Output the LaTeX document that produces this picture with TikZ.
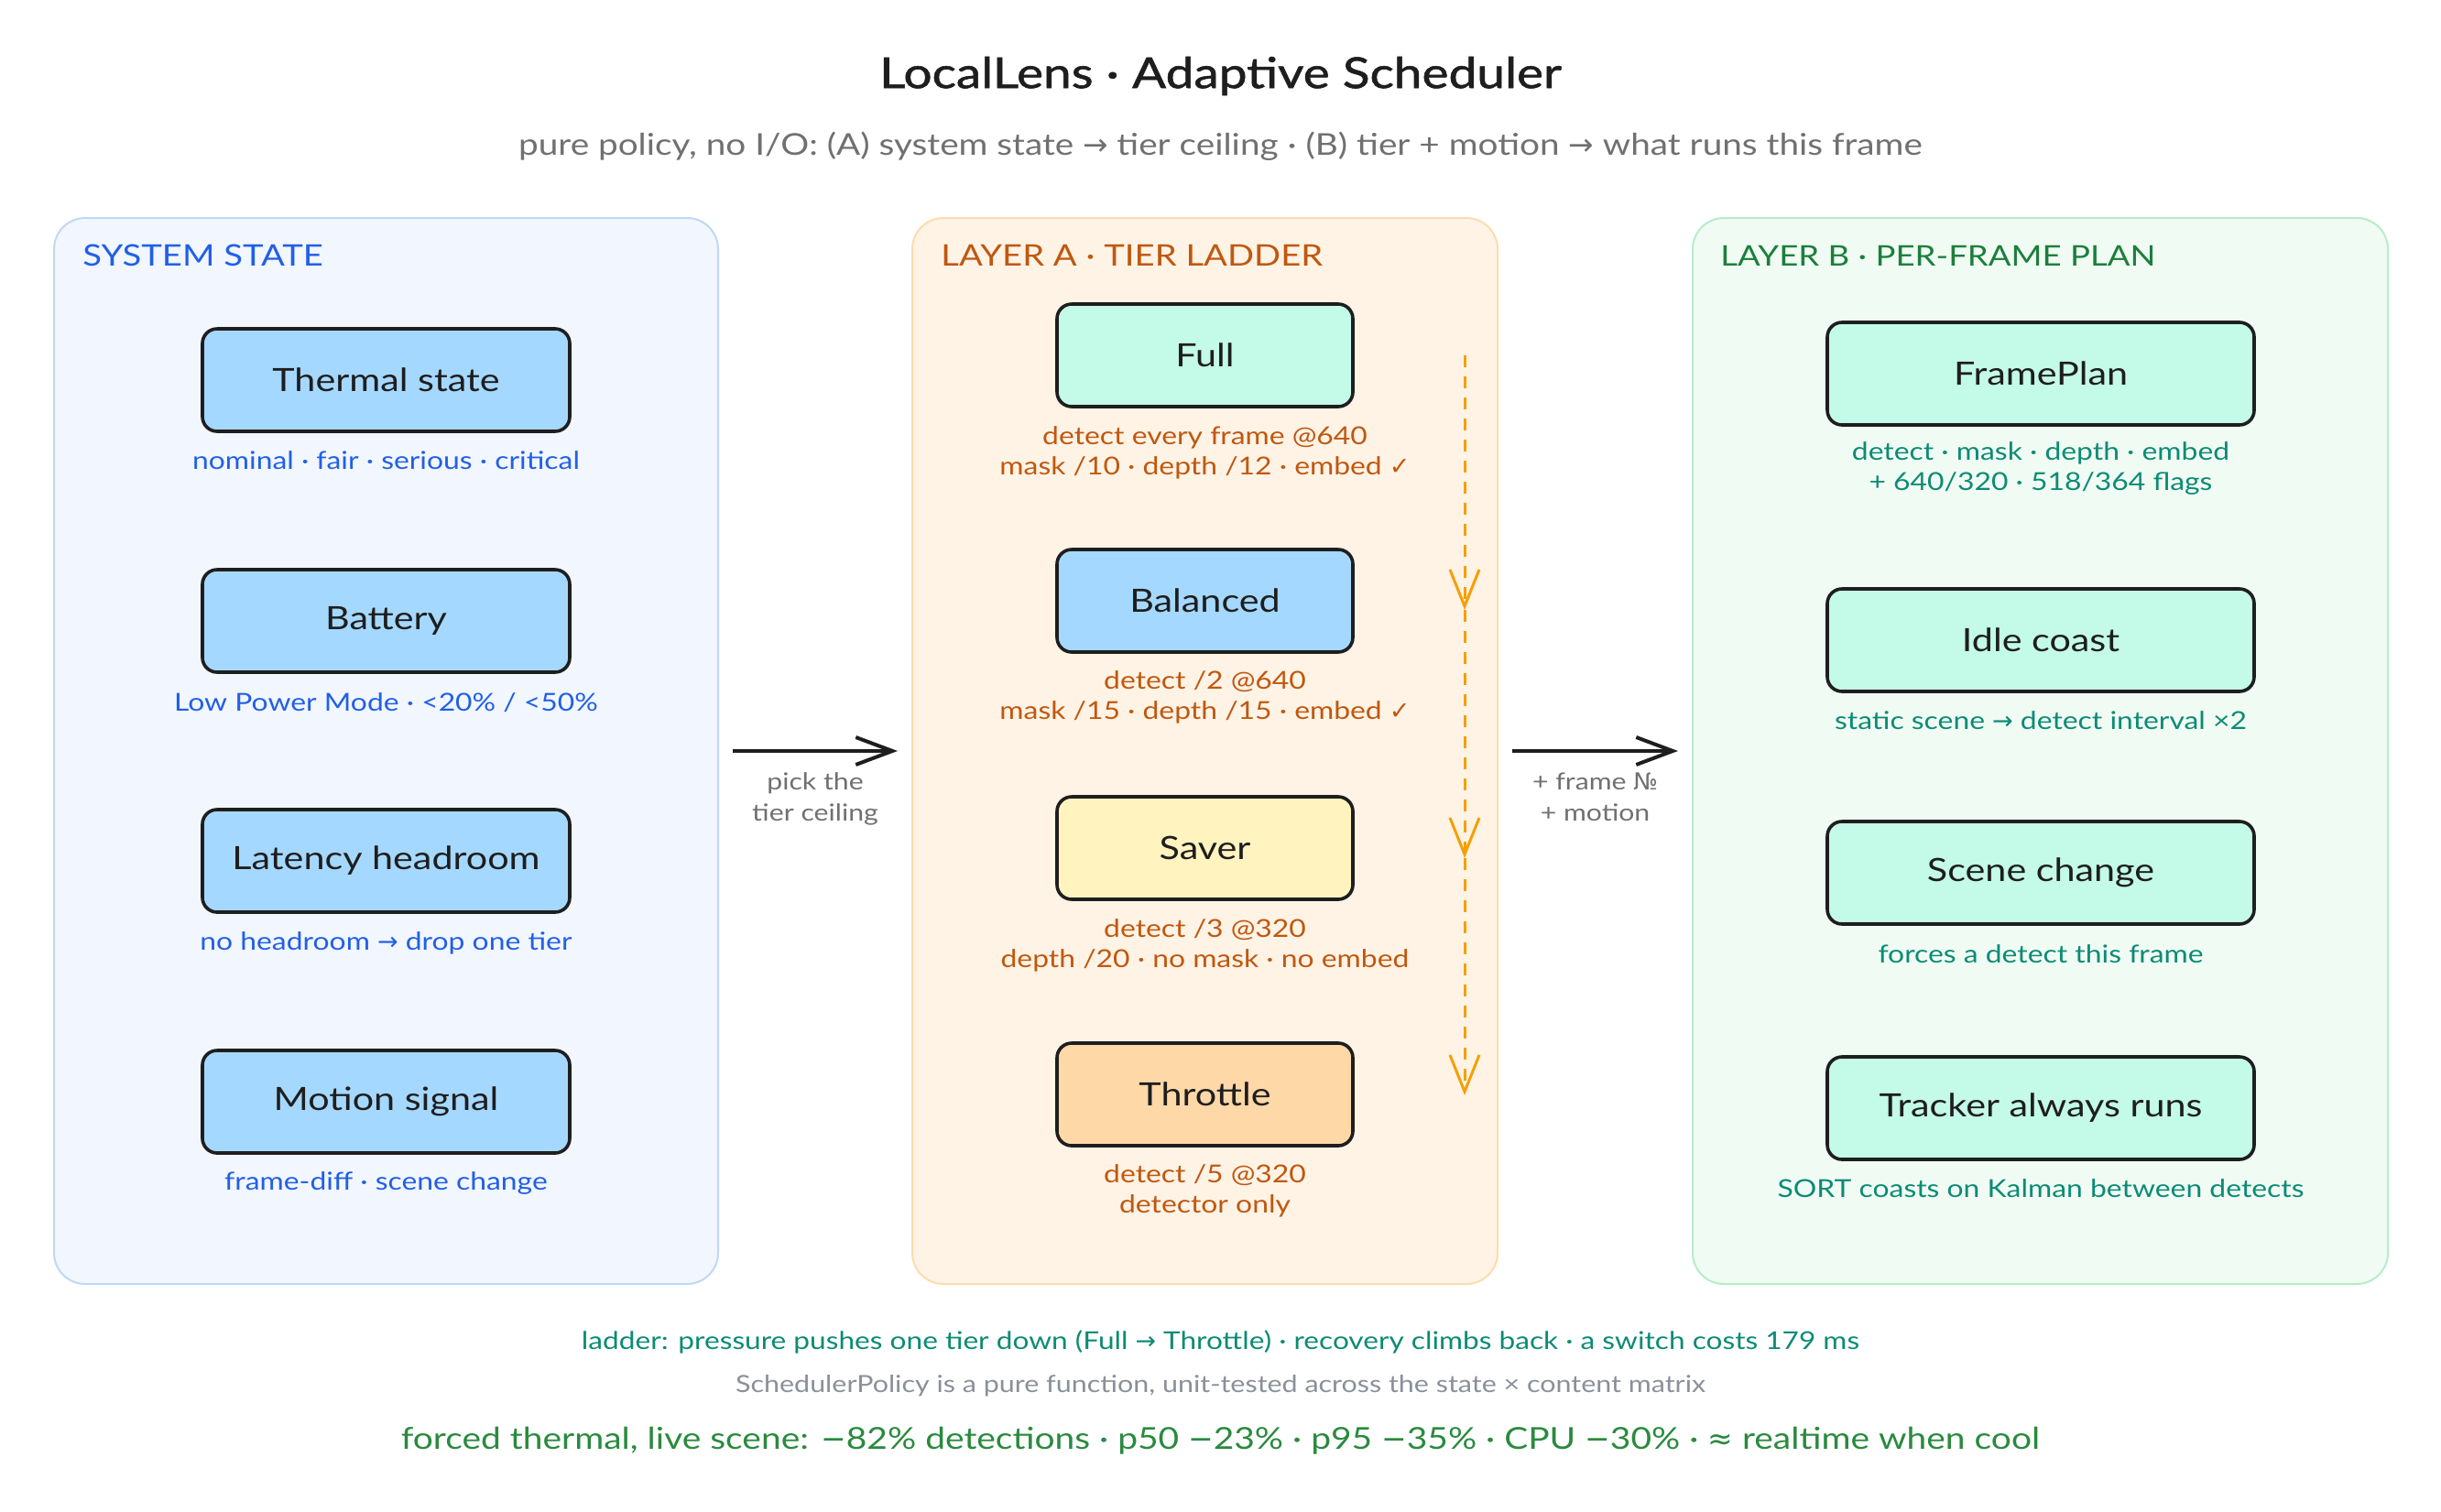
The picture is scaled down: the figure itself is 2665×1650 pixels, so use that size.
\documentclass[tikz,border=0pt]{standalone}
\usepackage{fontspec}
\setmainfont{Lato}[FakeStretch=1.18]
\newfontfamily\titlefont{Lato}[FakeStretch=1.18, FakeBold=1.2]
\newfontfamily\symfont{DejaVu Sans}
\newcommand\Sym[1]{{\symfont #1}}
\usetikzlibrary{arrows.meta}

\definecolor{ink}{HTML}{1E1E1E}
\definecolor{lpfill}{HTML}{F2F6FE}
\definecolor{lpdraw}{HTML}{BFD8F5}
\definecolor{mpfill}{HTML}{FFF3E6}
\definecolor{mpdraw}{HTML}{FCDCAE}
\definecolor{rpfill}{HTML}{F0FBF3}
\definecolor{rpdraw}{HTML}{B7EDC7}
\definecolor{blueT}{HTML}{2160E6}
\definecolor{orangeT}{HTML}{C0580E}
\definecolor{greenT}{HTML}{1B7F3C}
\definecolor{tealT}{HTML}{0C8B75}
\definecolor{grayT}{HTML}{707070}
\definecolor{grayB}{HTML}{8A9099}
\definecolor{greenB}{HTML}{2A8A3E}
\definecolor{fblue}{HTML}{A5D8FF}
\definecolor{fmint}{HTML}{C3FAE8}
\definecolor{fyellow}{HTML}{FFF3BF}
\definecolor{fpeach}{HTML}{FFD8A8}
\definecolor{dashO}{HTML}{F59F00}

\begin{document}
\begin{tikzpicture}[x=0.5pt,y=-0.5pt,
  panel/.style={rounded corners=17pt, line width=1pt, minimum height=582pt, inner sep=0pt},
  ptitle/.style={anchor=west, inner sep=0pt, font=\fontsize{16.2}{19}\selectfont},
  box/.style={draw=ink, line width=1.8pt, rounded corners=8pt, minimum height=56pt, inner sep=0pt, text=ink, font=\fontsize{17.5}{21}\selectfont},
  lbox/.style={box, minimum width=200.5pt},
  mbox/.style={box, minimum width=161.5pt},
  rbox/.style={box, minimum width=233pt},
  captxt/.style={align=center, inner sep=0pt, font=\fontsize{13.5}{16.5}\selectfont},
  conn/.style={draw=ink, line width=2pt, -{Straight Barb[length=20pt,width=15pt,line width=2pt]}, shorten <=7.5pt, shorten >=7.5pt},
  ladder/.style={draw=dashO, line width=1.5pt, dash pattern=on 6.5pt off 5pt, -{Straight Barb[length=20pt,width=16pt,line width=1.5pt]}},
  alabel/.style={align=center, inner sep=0pt, text=grayT, font=\fontsize{12.8}{17}\selectfont},
]
\useasboundingbox (0,0) rectangle (2665,1650);
\fill[white] (0,0) rectangle (2665,1650);

% title
\node[text=ink, font=\titlefont\fontsize{23.3}{28}\selectfont] (title) at (1332.5,83) {LocalLens · Adaptive Scheduler};
\node[text=grayT, font=\fontsize{16.4}{19}\selectfont] (sub) at (1332.5,160) {pure policy, no I/O: (A) system state \Sym{→} tier ceiling · (B) tier + motion \Sym{→} what runs this frame};

% panels
\node[panel, fill=lpfill, draw=lpdraw, minimum width=362.5pt] (lp) at (421.5,820) {};
\node[panel, fill=mpfill, draw=mpdraw, minimum width=319.5pt] (mp) at (1315.5,820) {};
\node[panel, fill=rpfill, draw=rpdraw, minimum width=379.5pt] (rp) at (2227.5,820) {};

\node[ptitle, text=blueT] (lpt) at (90,279) {SYSTEM STATE};
\node[ptitle, text=orangeT] (mpt) at (1027,279) {LAYER A · TIER LADDER};
\node[ptitle, text=greenT, font=\fontsize{15.5}{19}\selectfont] (rpt) at (1878,279) {LAYER B · PER-FRAME PLAN};

% system state
\node[lbox, fill=fblue] (thermal) at (421.5,415) {Thermal state};
\node[captxt, text=blueT] (thermalc) at (421.5,503) {nominal · fair · serious · critical};
\node[lbox, fill=fblue] (battery) at (421.5,678) {Battery};
\node[captxt, text=blueT] (batteryc) at (421.5,767) {Low Power Mode · <20\% / <50\%};
\node[lbox, fill=fblue] (latency) at (421.5,940) {Latency headroom};
\node[captxt, text=blueT] (latencyc) at (421.5,1030) {no headroom \Sym{→} drop one tier};
\node[lbox, fill=fblue] (motion) at (421.5,1203) {Motion signal};
\node[captxt, text=blueT] (motionc) at (421.5,1292) {frame-diff · scene change};

% tier ladder
\node[mbox, fill=fmint] (full) at (1315.5,388) {Full};
\node[captxt, text=orangeT] (fullc) at (1315.5,494) {detect every frame @640\\mask /10 · depth /12 · embed \Sym{✓}};
\node[mbox, fill=fblue] (balanced) at (1315.5,656) {Balanced};
\node[captxt, text=orangeT] (balancedc) at (1315.5,761) {detect /2 @640\\mask /15 · depth /15 · embed \Sym{✓}};
\node[mbox, fill=fyellow] (saver) at (1315.5,926) {Saver};
\node[captxt, text=orangeT] (saverc) at (1315.5,1032) {detect /3 @320\\depth /20 · no mask · no embed};
\node[mbox, fill=fpeach] (throttle) at (1315.5,1195) {Throttle};
\node[captxt, text=orangeT] (throttlec) at (1315.5,1300) {detect /5 @320\\detector only};

\coordinate (d0) at (1599,388);
\coordinate (d1) at (1599,666);
\coordinate (d2) at (1599,937);
\coordinate (d3) at (1599,1196);
\draw[ladder] (d0) -- (d1);
\draw[ladder] (d1) -- (d2);
\draw[ladder] (d2) -- (d3);

% per-frame plan
\node[rbox, fill=fmint] (frameplan) at (2228,408) {FramePlan};
\node[captxt, text=tealT] (frameplanc) at (2228,512) {detect · mask · depth · embed\\+ 640/320 · 518/364 flags};
\node[rbox, fill=fmint] (idle) at (2228,699) {Idle coast};
\node[captxt, text=tealT] (idlec) at (2228,787) {static scene \Sym{→} detect interval ×2};
\node[rbox, fill=fmint] (scene) at (2228,953) {Scene change};
\node[captxt, text=tealT] (scenec) at (2228,1042) {forces a detect this frame};
\node[rbox, fill=fmint] (tracker) at (2228,1210) {Tracker always runs};
\node[captxt, text=tealT] (trackerc) at (2228,1298) {SORT coasts on Kalman between detects};

% connectors
\draw[conn] (lp.east) -- node[alabel, below=11pt] (al1) {pick the\\tier ceiling} (mp.west);
\draw[conn] (mp.east) -- node[alabel, below=11pt] (al2) {+ frame \Sym{№}\\+ motion} (rp.west);

% footer
\node[text=tealT, font=\fontsize{13.4}{16}\selectfont] (foot1) at (1332.5,1465) {ladder: pressure pushes one tier down (Full \Sym{→} Throttle) · recovery climbs back · a switch costs 179 ms};
\node[text=grayB, font=\fontsize{12.9}{15}\selectfont] (foot2) at (1332.5,1513) {SchedulerPolicy is a pure function, unit-tested across the state × content matrix};
\node[text=greenB, font=\fontsize{16.5}{20}\selectfont] (foot3) at (1332.5,1573) {forced thermal, live scene: \Sym{−}82\% detections · p50 \Sym{−}23\% · p95 \Sym{−}35\% · CPU \Sym{−}30\% · \Sym{≈} realtime when cool};
\end{tikzpicture}
\end{document}
